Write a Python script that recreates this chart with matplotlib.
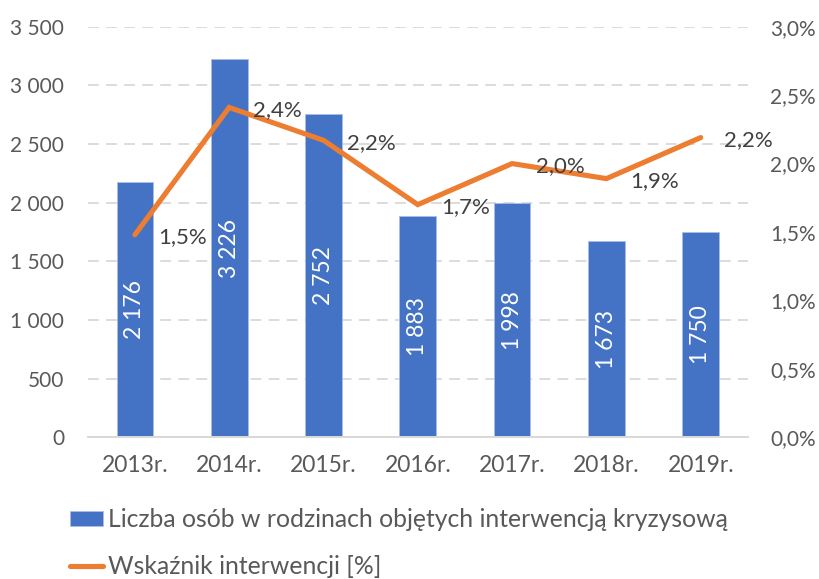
import matplotlib
matplotlib.use('Agg')
import matplotlib.pyplot as plt
from matplotlib.ticker import FuncFormatter, MultipleLocator

plt.rcParams['font.family'] = ['Lato', 'DejaVu Sans']

years      = ['2013r.', '2014r.', '2015r.', '2016r.', '2017r.', '2018r.', '2019r.']
persons    = [2176, 3226, 2752, 1883, 1998, 1673, 1750]
rate_pct   = [1.48, 2.41, 2.17, 1.70, 2.00, 1.89, 2.19]

bar_label  = 'Liczba osób w rodzinach objętych interwencją kryzysową'
line_label = 'Wskaźnik interwencji [%]'

BLUE   = '#4472C4'
ORANGE = '#ED7D31'
GREY   = '#595959'
GRID   = '#D9D9D9'
FS     = 15


def pl_thousands(v, _):
    return f'{int(round(v)):,}'.replace(',', ' ')


def pl_pct(v, _):
    return f'{v:.1f}%'.replace('.', ',')


fig = plt.figure(figsize=(8.2, 5.79), dpi=100)
ax1 = fig.add_axes([0.107, 0.2447, 0.805, 0.7092])
ax2 = ax1.twinx()

x = range(len(years))
bars = ax1.bar(x, persons, width=0.39, color=BLUE, edgecolor='#A9BEE6',
               linewidth=0.6, zorder=2, label=bar_label)
for b, v in zip(bars, persons):
    ax1.text(b.get_x() + b.get_width() / 2, v / 2, pl_thousands(v, None),
             rotation=90, ha='center', va='center', color='white',
             fontsize=16.5, zorder=3)

ax1.set_ylim(0, 3500)
ax1.set_xlim(-0.5, len(years) - 0.5)
ax1.yaxis.set_major_locator(MultipleLocator(500))
ax1.yaxis.set_major_formatter(FuncFormatter(pl_thousands))
ax1.grid(axis='y', color=GRID, linestyle=(0, (6, 4)), linewidth=1.3, zorder=0)
ax1.set_axisbelow(True)
ax1.set_xticks(list(x))
ax1.set_xticklabels(years)

line, = ax2.plot(x, rate_pct, color=ORANGE, linewidth=3.7,
                 solid_capstyle='round', solid_joinstyle='miter',
                 zorder=4, label=line_label)
for xi, v in zip(x, rate_pct):
    ax2.annotate(pl_pct(v, None), (xi, v), xytext=(17, -2),
                 textcoords='offset points', ha='left', va='center',
                 fontsize=16, color='#404040', zorder=5)
ax2.set_ylim(0, 3.0)
ax2.yaxis.set_major_locator(MultipleLocator(0.5))
ax2.yaxis.set_major_formatter(FuncFormatter(pl_pct))

for ax in (ax1, ax2):
    for side in ('top', 'left', 'right'):
        ax.spines[side].set_visible(False)
    ax.spines['bottom'].set_color(GRID)
    ax.spines['bottom'].set_linewidth(1.3)
    ax.tick_params(length=0, labelsize=FS, colors=GREY)
ax1.tick_params(axis='y', pad=17)
ax2.tick_params(axis='y', pad=16)
ax1.tick_params(axis='x', pad=13, labelsize=16.5)
# line drawn above the bars
ax2.set_zorder(ax1.get_zorder() + 1)
ax2.patch.set_visible(False)

fig.legend(handles=[bars, line], labels=[bar_label, line_label],
           loc='upper left', bbox_to_anchor=(0.085, 0.122), frameon=False,
           fontsize=17.8, labelcolor=GREY, handlelength=1.35, handleheight=0.6,
           handletextpad=0.2, labelspacing=0.95, borderpad=0,
           borderaxespad=0)

fig.savefig('out.png', dpi=100)
